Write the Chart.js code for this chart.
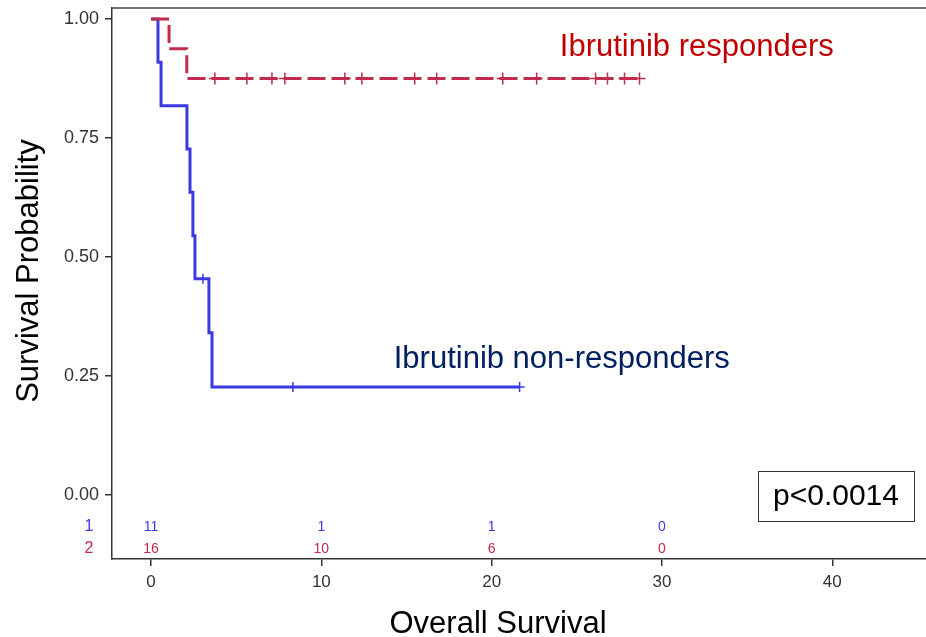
<!DOCTYPE html>
<html>
<head>
<meta charset="utf-8">
<script src="https://cdn.jsdelivr.net/npm/chart.js@4.4.1/dist/chart.umd.min.js"></script>
<style>
  html, body { margin: 0; padding: 0; background: #fff; overflow: hidden; }
  canvas { display: block; }
</style>
</head>
<body>
<canvas id="km" width="926" height="637"></canvas>
<script>
// Kaplan-Meier steps (time, survival)
const respTimes = [0, 1.06, 2.1, 28.7];
const respSurv = [1, 0.9375, 0.875, 0.875];
const respCensorTimes = [3.75, 5.63, 7.10, 7.86, 11.38, 12.38, 15.48, 16.77, 20.65, 22.64, 26.10, 26.80, 27.80, 28.68];
const respCensorSurv = [0.875, 0.875, 0.875, 0.875, 0.875, 0.875, 0.875, 0.875, 0.875, 0.875, 0.875, 0.875, 0.875, 0.875];

const nonRespTimes = [0, 0.41, 0.59, 2.11, 2.29, 2.46, 2.58, 3.40, 3.58, 21.64];
const nonRespSurv = [1, 0.909, 0.818, 0.727, 0.636, 0.545, 0.4545, 0.341, 0.227, 0.227];
const nonRespCensorTimes = [3.05, 8.33, 21.64];
const nonRespCensorSurv = [0.4545, 0.227, 0.227];

const xTicks = [0, 10, 20, 30, 40];
const yTicks = [0, 0.25, 0.5, 0.75, 1];

// numbers at risk
const atRiskTimes = [0, 10, 20, 30];
const atRiskNonResp = [11, 1, 1, 0];
const atRiskResp = [16, 10, 6, 0];

const BLUE = '#3a3ae0';
const RED = '#c02c4c';
const FONT = '"Liberation Sans", Arial, sans-serif';

function toPoints(xs, ys) {
  return xs.map((x, i) => ({ x: x, y: ys[i] }));
}

// labels, at-risk table, p value box, axis titles, top frame
const kmDecor = {
  id: 'kmDecor',
  afterDraw(chart) {
    const { ctx, chartArea, scales: { x, y } } = chart;
    ctx.save();

    ctx.strokeStyle = '#444';
    ctx.lineWidth = 1.5;
    ctx.beginPath();
    ctx.moveTo(chartArea.left, chartArea.top);
    ctx.lineTo(chartArea.right, chartArea.top);
    ctx.stroke();

    ctx.font = '31px ' + FONT;
    ctx.textAlign = 'left';
    ctx.textBaseline = 'alphabetic';
    ctx.fillStyle = '#c00000';
    ctx.fillText('Ibrutinib responders', x.getPixelForValue(24.0), 56);
    ctx.fillStyle = '#002060';
    ctx.fillText('Ibrutinib non-responders', x.getPixelForValue(14.25), 368);

    // at-risk rows
    const row1 = chartArea.bottom - 32;
    const row2 = chartArea.bottom - 10;
    ctx.textAlign = 'center';
    ctx.textBaseline = 'middle';
    ctx.font = '14px ' + FONT;
    atRiskTimes.forEach((t, i) => {
      const px = x.getPixelForValue(t);
      ctx.fillStyle = BLUE;
      ctx.fillText(String(atRiskNonResp[i]), px, row1);
      ctx.fillStyle = RED;
      ctx.fillText(String(atRiskResp[i]), px, row2);
    });
    ctx.font = '16px ' + FONT;
    ctx.fillStyle = BLUE;
    ctx.fillText('1', 89, row1);
    ctx.fillStyle = RED;
    ctx.fillText('2', 89, row2);

    // p value box
    ctx.strokeStyle = '#333';
    ctx.lineWidth = 1;
    ctx.strokeRect(758.5, 471.5, 156, 50);
    ctx.fillStyle = '#000';
    ctx.font = '30px ' + FONT;
    ctx.fillText('p<0.0014', 836, 497);

    // axis titles
    ctx.font = '31px ' + FONT;
    ctx.textBaseline = 'alphabetic';
    ctx.fillText('Overall Survival', 498, 633);
    ctx.translate(38, 271);
    ctx.rotate(-Math.PI / 2);
    ctx.fillText('Survival Probability', 0, 0);

    ctx.restore();
  }
};

new Chart(document.getElementById('km'), {
  type: 'line',
  data: {
    datasets: [
      {
        label: 'Ibrutinib responders',
        data: toPoints(respTimes, respSurv),
        stepped: true,
        borderColor: RED,
        borderWidth: 3,
        borderDash: [18, 6],
        pointRadius: 0,
        fill: false
      },
      {
        label: 'Responders censored',
        data: toPoints(respCensorTimes, respCensorSurv),
        showLine: false,
        pointStyle: 'cross',
        pointRadius: 6,
        borderColor: RED,
        borderWidth: 1.5
      },
      {
        label: 'Ibrutinib non-responders',
        data: toPoints(nonRespTimes, nonRespSurv),
        stepped: true,
        borderColor: BLUE,
        borderWidth: 3,
        pointRadius: 0,
        fill: false
      },
      {
        label: 'Non-responders censored',
        data: toPoints(nonRespCensorTimes, nonRespCensorSurv),
        showLine: false,
        pointStyle: 'cross',
        pointRadius: 5,
        borderColor: BLUE,
        borderWidth: 1.5
      }
    ]
  },
  options: {
    responsive: false,
    animation: false,
    layout: { autoPadding: false, padding: { top: 8, right: 0, left: 0, bottom: 0 } },
    plugins: {
      legend: { display: false },
      tooltip: { enabled: false }
    },
    scales: {
      x: {
        type: 'linear',
        min: -2.29,
        max: 45.5,
        afterBuildTicks: s => { s.ticks = xTicks.map(v => ({ value: v })); },
        afterFit: s => { s.height = 78; s.paddingLeft = 0; s.paddingRight = 0; },
        border: { display: true, color: '#333', width: 1.5 },
        grid: { display: true, drawOnChartArea: false, drawTicks: true, tickLength: 7, color: '#333', lineWidth: 1.5 },
        ticks: { color: '#333', padding: 6, font: { size: 17, family: FONT }, callback: v => String(v) }
      },
      y: {
        type: 'linear',
        min: -0.134,
        max: 1.023,
        afterBuildTicks: s => { s.ticks = yTicks.map(v => ({ value: v })); },
        afterFit: s => { s.width = 112; s.paddingTop = 0; s.paddingBottom = 0; },
        border: { display: true, color: '#333', width: 1.5 },
        grid: { display: true, drawOnChartArea: false, drawTicks: true, tickLength: 7, color: '#333', lineWidth: 1.5 },
        ticks: { color: '#333', padding: 6, font: { size: 18, family: FONT }, callback: v => v.toFixed(2) }
      }
    }
  },
  plugins: [kmDecor]
});
</script>
</body>
</html>
